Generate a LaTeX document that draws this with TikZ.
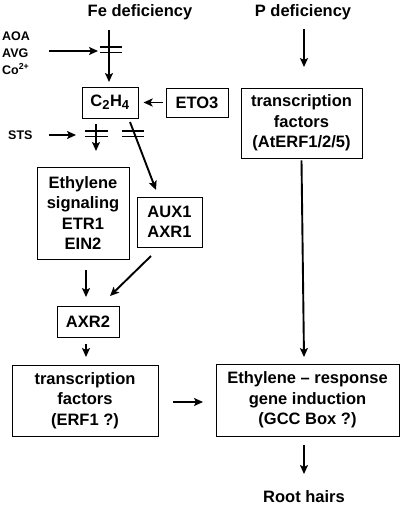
\documentclass[tikz,border=0pt]{standalone}
\usepackage{fontspec}
\setmainfont{Liberation Sans}
\usetikzlibrary{arrows.meta}
\begin{document}
\begin{tikzpicture}[x=1pt,y=-1pt,
  font=\bfseries\fontsize{16.5}{20.5}\selectfont,
  box/.style={draw,line width=0.9pt,inner sep=0pt,align=center,minimum width=#1},
  arr/.style={line width=1.9pt,-{Stealth[length=9pt,width=8pt,inset=2pt]}},
  bar/.style={line width=1.1pt},
  small/.style={font=\bfseries\fontsize{12.5}{17}\selectfont,inner sep=0pt}]
\useasboundingbox (0,0) rectangle (400,506);
% titles
\node (fe) at (140,12) {Fe deficiency};
\node (pd) at (303,12) {P deficiency};
% boxes
\node[box=56pt,minimum height=31pt] (c2h4) at (110,102.5) {C\textsubscript{\fontsize{13}{13}\selectfont 2}H\textsubscript{\fontsize{13}{13}\selectfont 4}};
\node[box=62pt,minimum height=29pt] (eto) at (197,102.5) {ETO3};
\node[box=121pt,minimum height=70pt] (aterf) at (301.5,123) {transcription\\factors\\(AtERF1/2/5)};
\node[box=92pt,minimum height=92pt] (sig) at (83,213) {Ethylene\\signaling\\ETR1\\EIN2};
\node[box=65pt,minimum height=50pt] (aux) at (169.5,222) {AUX1\\AXR1};
\node[box=62pt,minimum height=31pt] (axr2) at (88,321.5) {AXR2};
\node[box=146pt,minimum height=71pt] (tf) at (85,400.5) {transcription\\factors\\(ERF1 ?)};
\node[box=183pt,minimum height=72pt] (er) at (307.5,400) {Ethylene -- response\\gene induction\\(GCC Box ?)};
\node (rh) at (304,497) {Root hairs};
% inhibitor labels
\node[small,align=left,anchor=west] (aoa) at (2,53) {AOA\\AVG\\Co\textsuperscript{2+}};
\node[small,anchor=west] (sts) at (8,135) {STS};
% coordinates
\coordinate (feS) at (109,30);
\coordinate (feE) at (109,82);
\coordinate (aoaS) at (49,51);
\coordinate (aoaE) at (98,51);
\coordinate (stsS) at (49,135);
\coordinate (stsE) at (76,135);
\coordinate (sigA) at (96,124);
\coordinate (sigB) at (96,151);
\coordinate (auxA) at (130,122);
\coordinate (pdS) at (304,29);
\coordinate (pdE) at (304,67);
% arrows
\draw[arr] (feS) -- (feE);
\draw[arr] (aoaS) -- (aoaE);
\draw[bar] (100,47) -- (122,47) (100,52.5) -- (122,52.5);
\draw[arr] (eto.west) ++(-3,0) -- ++(-19,0);
\draw[arr] (stsS) -- (stsE);
\draw[bar] (85,131) -- (108,131) (85,136.5) -- (108,136.5);
\draw[arr] (sigA) -- (sigB);
\draw[bar] (122,131) -- (144,131) (122,136.5) -- (144,136.5);
\draw[arr] (auxA) -- (156,190);
\draw[arr] (pdS) -- (pdE);
\draw[arr] (aterf.south) ++(0,2) -- (304,357);
\draw[arr] (86,270) -- (86,297);
\draw[arr] (151,256) -- (110,296);
\draw[arr] (86,344) -- (86,357);
\draw[arr] (173,402) -- (203,402);
\draw[arr] (304,445) -- (304,474);
\end{tikzpicture}
\end{document}
